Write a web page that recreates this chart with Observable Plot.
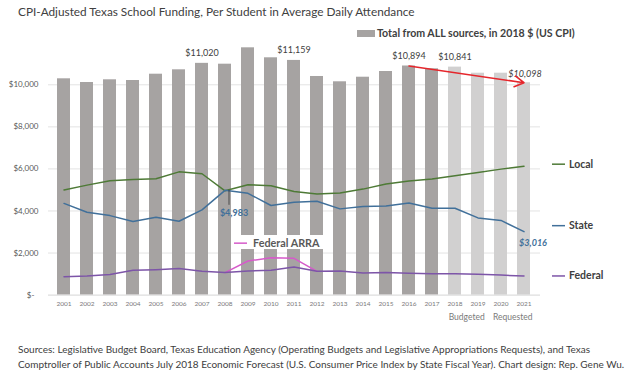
<!DOCTYPE html>
<html><head><meta charset="utf-8">
<script src="https://cdn.jsdelivr.net/npm/d3@7"></script>
<script src="https://cdn.jsdelivr.net/npm/@observablehq/plot@0.6"></script>
<style>
body{margin:0;background:#fff;font-family:Lato,sans-serif;}
#wrap{width:640px;height:385px;overflow:hidden;position:relative;}
#title{height:24px;line-height:24px;padding-left:18px;font-size:11.8px;color:#404040;white-space:nowrap;}
#legend{height:18px;display:flex;align-items:center;padding-left:357px;font-size:10.6px;font-weight:bold;color:#404040;white-space:nowrap;}
#legend .sw{display:inline-block;width:18px;height:7px;background:#a6a3a2;margin-right:2px;}
#foot{padding-top:8px;padding-left:18px;font-size:10px;line-height:15px;color:#404040;white-space:nowrap;}
svg{display:block;}
</style></head><body><div id="wrap">
<div id="title">CPI-Adjusted Texas School Funding, Per Student in Average Daily Attendance</div>
<div id="legend"><span class="sw"></span>Total from ALL sources, in 2018 $ (US CPI)</div>
<div id="chart"></div>
<div id="foot">Sources: Legislative Budget Board, Texas Education Agency (Operating Budgets and Legislative Appropriations Requests), and Texas<br>Comptroller of Public Accounts July 2018 Economic Forecast (U.S. Consumer Price Index by State Fiscal Year). Chart design: Rep. Gene Wu.</div>
</div>
<script>
const years = ["2001","2002","2003","2004","2005","2006","2007","2008","2009","2010","2011","2012","2013","2014","2015","2016","2017","2018","2019","2020","2021"];
const projectedYears = ["2018","2019","2020","2021"];
const total = [10285,10109,10238,10204,10504,10713,11020,10980,11759,11284,11159,10395,10143,10361,10632,10894,10761,10841,10552,10552,10098];
const local = [5000,5230,5440,5500,5530,5860,5770,4960,5250,5200,4930,4810,4860,5040,5280,5420,5520,5670,5830,5990,6130];
const state = [4360,3940,3780,3500,3700,3510,4050,4983,4840,4260,4410,4460,4100,4210,4240,4380,4130,4130,3670,3550,3016];
const federal = [870,910,980,1180,1210,1260,1130,1070,1150,1180,1340,1130,1150,1050,1070,1040,1010,1010,990,950,910];
const arraYears = ["2008","2009","2010","2011","2012"];
const arra = [1070,1620,1780,1750,1130];
const yTicks = [0,2000,4000,6000,8000,10000];
const labeledTotals = ["2007","2011","2016","2018"];
const arraLabelY = 2470;
const arraBox = [2168, 2834];

const dark = "#a6a3a2", light = "#d1d0d0";
const cLocal = "#4e7a36", cState = "#41709a", cFed = "#7d55a8", cArra = "#d65bca";
const money = d => d === 0 ? "$-\u00a0\u00a0" : "$" + d3.format(",")(d);

const totalData = years.map((y, i) => ({year: y, value: total[i]}));
const hist = totalData.filter(d => !projectedYears.includes(d.year));
const proj = totalData.filter(d => projectedYears.includes(d.year));
const ser = vals => years.map((y, i) => ({year: y, value: vals[i]}));
const arraData = arraYears.map((y, i) => ({year: y, value: arra[i]}));
const tot = y => total[years.indexOf(y)];
const last = arr => [{year: years[years.length - 1], value: arr[arr.length - 1]}];

const chart = Plot.plot({
  width: 640, height: 292,
  marginLeft: 48, marginRight: 100, marginTop: 0, marginBottom: 39.4,
  style: {fontFamily: "Lato, sans-serif", background: "white", color: "#404040"},
  x: {type: "band", domain: years, range: [42.6, 544.1], padding: 0.43},
  y: {domain: [0, 12000], range: [252.6, 0.24]},
  marks: [
    Plot.ruleY(yTicks.filter(d => d > 0), {stroke: "#e3e3e3"}),
    Plot.barY(hist, {x: "year", y: "value", fill: dark}),
    Plot.barY(proj, {x: "year", y: "value", fill: light}),
    Plot.barY(arraYears.slice(1), {x: d => d, y1: arraBox[0], y2: arraBox[1], fill: "white"}),
    Plot.ruleY([0], {stroke: "#d6d6d6"}),
    Plot.axisX({tickSize: 0, tickPadding: 6, fontSize: 6.5, fill: "#7a7a7a", label: null}),
    Plot.axisY({ticks: yTicks, tickFormat: money, tickSize: 0, tickPadding: 10, fontSize: 8, fill: "#595959", label: null}),
    Plot.line(ser(local), {x: "year", y: "value", stroke: cLocal, strokeWidth: 1.5}),
    Plot.line(ser(state), {x: "year", y: "value", stroke: cState, strokeWidth: 1.5}),
    Plot.line(arraData, {x: "year", y: "value", stroke: cArra, strokeWidth: 1.5}),
    Plot.line(ser(federal), {x: "year", y: "value", stroke: cFed, strokeWidth: 1.5}),
    // total labels
    Plot.text(labeledTotals, {x: d => d, y: d => tot(d), text: d => money(tot(d)), dy: -10, fontSize: 9, fill: "#404040"}),
    Plot.text(["2021"], {x: d => d, y: d => tot(d), text: d => money(tot(d)), dy: -8.5, dx: 1, fontSize: 9, fontStyle: "italic", fill: "#404040"}),
    Plot.arrow([{x1: "2016", x2: "2021"}], {x1: "x1", y1: d => tot(d.x1), x2: "x2", y2: d => tot(d.x2), stroke: "#e5262c", strokeWidth: 1.6, headLength: 10}),
    // state annotations
    Plot.ruleX(["2008"], {x: d => d, y1: 4980, y2: 4270, dx: 4, stroke: "#333", strokeWidth: 0.8}),
    Plot.text(["2008"], {x: d => d, y: d => state[years.indexOf(d)], text: d => money(state[years.indexOf(d)]), dx: 9, dy: 23, fontSize: 9, fontWeight: "bold", fill: cState}),
    Plot.text(["2021"], {x: d => d, y: d => state[years.indexOf(d)], text: d => money(state[years.indexOf(d)]), dx: 9, dy: 11, fontSize: 9, fontWeight: "bold", fontStyle: "italic", fill: cState}),
    // series legends
    Plot.tickY(last(local), {x: "year", y: "value", dx: 35, dy: -2, stroke: cLocal, strokeWidth: 1.5}),
    Plot.text(last(local), {x: "year", y: "value", text: () => "Local", dx: 45, dy: -2, textAnchor: "start", fontSize: 10.5, fontWeight: "bold", fill: "#404040"}),
    Plot.tickY(last(state), {x: "year", y: "value", dx: 35, dy: -6, stroke: cState, strokeWidth: 1.5}),
    Plot.text(last(state), {x: "year", y: "value", text: () => "State", dx: 45, dy: -6, textAnchor: "start", fontSize: 10.5, fontWeight: "bold", fill: "#404040"}),
    Plot.tickY(last(federal), {x: "year", y: "value", dx: 35, dy: 0, stroke: cFed, strokeWidth: 1.5}),
    Plot.text(last(federal), {x: "year", y: "value", text: () => "Federal", dx: 45, dy: 0, textAnchor: "start", fontSize: 10.5, fontWeight: "bold", fill: "#404040"}),
    Plot.tickY(["2009"], {x: d => d, y: arraLabelY, dx: -7, stroke: cArra, strokeWidth: 1.5}),
    Plot.text(["2009"], {x: d => d, y: arraLabelY, text: () => "Federal ARRA", dx: 5, textAnchor: "start", fontSize: 10.8, fontWeight: "bold", fill: "#595959"}),
    // budgeted / requested
    Plot.text(["2018"], {x: d => d, frameAnchor: "bottom", text: () => "Budgeted", dx: 11.7, dy: 24.4, fontSize: 8.5, fill: "#7a7a7a"}),
    Plot.text(["2020"], {x: d => d, frameAnchor: "bottom", text: () => "Requested", dx: 11.7, dy: 24.4, fontSize: 8.5, fill: "#7a7a7a"})
  ]
});
document.getElementById("chart").appendChild(chart);
</script>
</body></html>
